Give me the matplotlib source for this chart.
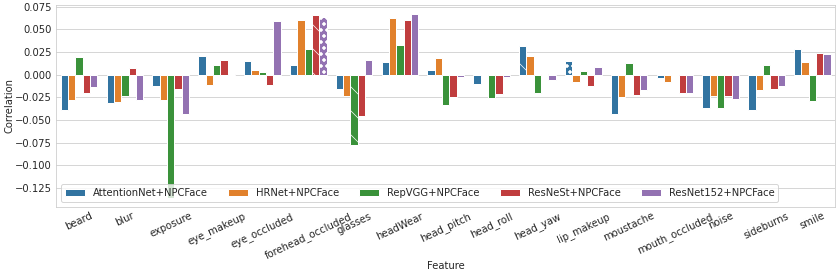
import matplotlib
matplotlib.use("Agg")
import matplotlib.pyplot as plt
import pandas as pd
import seaborn as sns

# -------------------------
# Data
# -------------------------
features = ["beard", "blur", "exposure", "eye_makeup", "eye_occluded",
            "forehead_occluded", "glasses", "headWear", "head_pitch",
            "head_roll", "head_yaw", "lip_makeup", "moustache",
            "mouth_occluded", "noise", "sideburns", "smile"]

models = ["AttentionNet+NPCFace", "HRNet+NPCFace", "RepVGG+NPCFace",
          "ResNeSt+NPCFace", "ResNet152+NPCFace"]

attentionnet = [-0.039, -0.031, -0.012, 0.021, 0.015, 0.011, -0.016, 0.014,
                0.005, -0.010, 0.032, 0.0155, -0.044, -0.004, -0.037, -0.039, 0.028]
hrnet = [-0.028, -0.030, -0.028, -0.011, 0.0055, 0.061, -0.024, 0.063,
         0.019, -0.001, 0.021, -0.008, -0.025, -0.0078, -0.023, -0.0167, 0.014]
repvgg = [0.020, -0.024, -0.136, 0.011, 0.0026, 0.0285, -0.078, 0.033,
          -0.033, -0.026, -0.020, 0.0044, 0.013, 0.0, -0.0365, 0.0107, -0.029]
resnest = [-0.020, 0.007, -0.016, 0.016, -0.011, 0.066, -0.046, 0.060,
           -0.025, -0.021, 0.001, -0.013, -0.0225, -0.020, -0.024, -0.0155, 0.0244]
resnet152 = [-0.014, -0.028, -0.044, 0.0003, 0.059, 0.064, 0.016, 0.067,
             -0.0026, -0.003, -0.006, 0.009, -0.017, -0.0207, -0.027, -0.012, 0.023]

# highlighted bars: (model index, feature, hatch)
highlights = [(0, "forehead_occluded", "\\"), (3, "forehead_occluded", "\\"),
              (4, "forehead_occluded", "oo"), (2, "glasses", "\\"),
              (0, "head_yaw", "\\"), (0, "lip_makeup", "oo")]

series = [attentionnet, hrnet, repvgg, resnest, resnet152]
rows = []
for model, vals in zip(models, series):
    for feat, v in zip(features, vals):
        rows.append({"Feature": feat, "Model": model, "Correlation": v})
df = pd.DataFrame(rows)

# -------------------------
# Plot
# -------------------------
sns.set_style("whitegrid")
plt.rcParams['hatch.linewidth'] = 0.7
fig, ax = plt.subplots(figsize=(837 / 72, 274 / 72), dpi=72)
fig.subplots_adjust(left=0.067, right=0.998, top=0.982, bottom=0.245)

sns.barplot(data=df, x="Feature", y="Correlation", hue="Model", ax=ax,
            order=features, hue_order=models)

for m_idx, feat, hatch in highlights:
    bar = ax.containers[m_idx][features.index(feat)]
    bar.set_hatch(hatch)

ax.tick_params(axis='y', length=0, pad=4)
ax.tick_params(axis='x', length=0, pad=4)
ax.set_xlabel("Feature", labelpad=0)
ax.set_ylabel("Correlation", labelpad=1)
plt.setp(ax.get_xticklabels(), rotation=25)
ax.legend(loc="lower left", ncol=5)

fig.savefig("out.png", dpi=72)
